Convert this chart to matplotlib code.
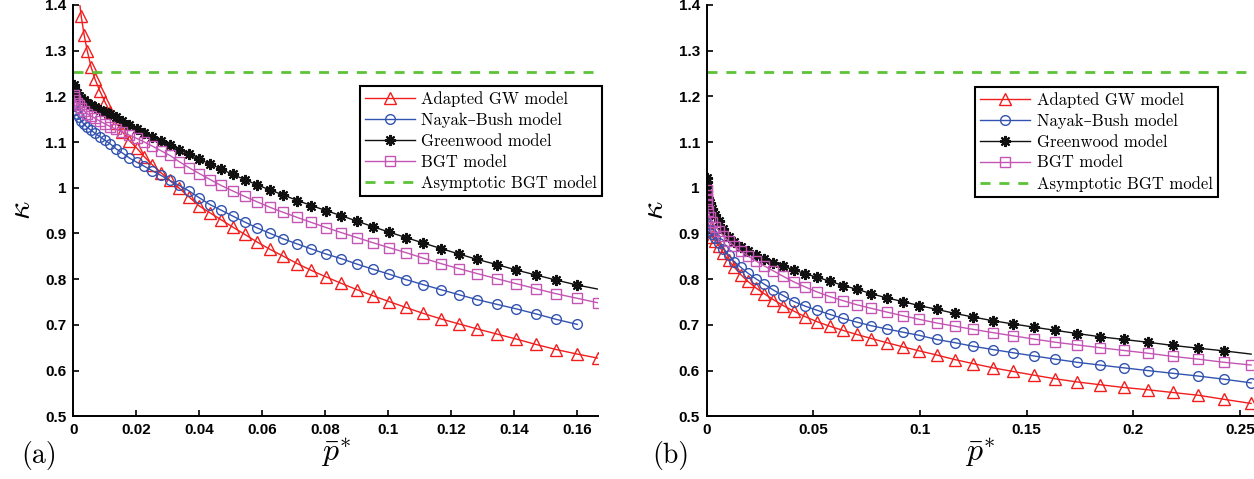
import matplotlib
matplotlib.use('Agg')
import matplotlib.pyplot as plt
from matplotlib.ticker import FuncFormatter

plt.rcParams['mathtext.fontset'] = 'cm'

# ---- panel (a) ----
xa = [0.00007, 0.00028, 0.00062, 0.00111, 0.00173, 0.0025, 0.0034, 0.0044, 0.0056, 0.0069,
      0.0084, 0.0100, 0.0117, 0.0136, 0.0156, 0.0178, 0.0201, 0.0225, 0.0251, 0.0278,
      0.0306, 0.0336, 0.0367, 0.0400, 0.0434, 0.0469, 0.0506, 0.0544, 0.0584, 0.0625,
      0.0667, 0.0711, 0.0756, 0.0802, 0.0850, 0.0900, 0.0950, 0.1002, 0.1056, 0.1111,
      0.1167, 0.1224, 0.1283, 0.1344, 0.1406, 0.1469, 0.1533, 0.1600, 0.1667]
gw_a = [1.420, 1.375, 1.335, 1.300, 1.265, 1.237, 1.212, 1.188, 1.165, 1.142,
        1.122, 1.103, 1.087, 1.068, 1.050, 1.033, 1.016, 0.999, 0.980, 0.960,
        0.945, 0.930, 0.914, 0.898, 0.881, 0.865, 0.850, 0.834, 0.819, 0.805,
        0.791, 0.777, 0.764, 0.751, 0.738, 0.725, 0.713, 0.702, 0.691, 0.680,
        0.669, 0.657, 0.646, 0.636, 0.627]
nb_a = [1.185, 1.178, 1.170, 1.162, 1.154, 1.146, 1.139, 1.132, 1.126, 1.119,
        1.112, 1.104, 1.096, 1.085, 1.076, 1.065, 1.056, 1.047, 1.037, 1.027,
        1.016, 1.005, 0.993, 0.978, 0.963, 0.951, 0.938, 0.925, 0.912, 0.900,
        0.888, 0.877, 0.866, 0.855, 0.845, 0.833, 0.822, 0.811, 0.799, 0.788,
        0.777, 0.766, 0.755, 0.745, 0.735, 0.724, 0.712, 0.701]
green_a = [1.224, 1.219, 1.213, 1.207, 1.201, 1.196, 1.191, 1.186, 1.181, 1.176,
           1.171, 1.166, 1.161, 1.155, 1.145, 1.137, 1.129, 1.120, 1.111, 1.102,
           1.093, 1.083, 1.073, 1.062, 1.052, 1.041, 1.029, 1.018, 1.006, 0.995,
           0.984, 0.972, 0.961, 0.950, 0.939, 0.927, 0.915, 0.903, 0.891, 0.879,
           0.867, 0.855, 0.843, 0.832, 0.820, 0.809, 0.798, 0.787, 0.778]
bgt_a = [1.203, 1.198, 1.192, 1.186, 1.180, 1.174, 1.168, 1.162, 1.157, 1.152,
         1.146, 1.140, 1.134, 1.128, 1.122, 1.115, 1.108, 1.100, 1.091, 1.081,
         1.071, 1.057, 1.044, 1.031, 1.018, 1.005, 0.993, 0.981, 0.969, 0.957,
         0.946, 0.935, 0.924, 0.913, 0.902, 0.891, 0.880, 0.869, 0.858, 0.846,
         0.834, 0.823, 0.812, 0.801, 0.790, 0.779, 0.768, 0.758, 0.748]

# ---- panel (b) ----
xb = [0.00001, 0.00004, 0.00009, 0.00016, 0.00064, 0.00144, 0.00255, 0.00399, 0.00574, 0.00782,
      0.01021, 0.01292, 0.01595, 0.0193, 0.02297, 0.02696, 0.03127, 0.03589, 0.04084, 0.0461,
      0.05168, 0.05759, 0.06381, 0.07035, 0.07721, 0.08438, 0.09188, 0.0997, 0.10783, 0.11629,
      0.12506, 0.13415, 0.14357, 0.1533, 0.16334, 0.17371, 0.1844, 0.19541, 0.20673, 0.21838,
      0.23034, 0.24262, 0.25523]
gw_b = [0.990, 0.975, 0.960, 0.948, 0.925, 0.907, 0.893, 0.884, 0.873, 0.857,
        0.841, 0.826, 0.810, 0.795, 0.781, 0.768, 0.755, 0.742, 0.730, 0.718,
        0.707, 0.697, 0.688, 0.679, 0.670, 0.661, 0.652, 0.643, 0.634, 0.624,
        0.615, 0.606, 0.598, 0.590, 0.582, 0.575, 0.569, 0.563, 0.558, 0.552,
        0.546, 0.537, 0.528]
nb_b = [0.960, 0.950, 0.942, 0.935, 0.920, 0.908, 0.898, 0.890, 0.880, 0.866,
        0.853, 0.838, 0.826, 0.813, 0.801, 0.789, 0.776, 0.764, 0.751, 0.741,
        0.732, 0.723, 0.714, 0.706, 0.698, 0.691, 0.684, 0.677, 0.668, 0.661,
        0.653, 0.646, 0.639, 0.632, 0.625, 0.618, 0.612, 0.606, 0.600, 0.594,
        0.588, 0.581, 0.573]
green_b = [1.022, 1.012, 1.002, 0.993, 0.978, 0.966, 0.953, 0.940, 0.927, 0.910,
           0.893, 0.882, 0.871, 0.861, 0.852, 0.844, 0.836, 0.828, 0.820, 0.812,
           0.804, 0.796, 0.786, 0.778, 0.768, 0.759, 0.751, 0.742, 0.734, 0.725,
           0.717, 0.709, 0.702, 0.695, 0.688, 0.681, 0.674, 0.668, 0.662, 0.655,
           0.649, 0.643, 0.636]
bgt_b = [0.995, 0.985, 0.975, 0.965, 0.950, 0.936, 0.925, 0.915, 0.906, 0.895,
         0.883, 0.872, 0.861, 0.851, 0.840, 0.829, 0.818, 0.806, 0.794, 0.783,
         0.772, 0.762, 0.753, 0.744, 0.736, 0.728, 0.720, 0.712, 0.704, 0.697,
         0.690, 0.683, 0.676, 0.669, 0.662, 0.656, 0.650, 0.644, 0.638, 0.631,
         0.625, 0.618, 0.612]

asym_bgt = 1.2533

labels = ['Adapted GW model', 'Nayak\u2013Bush model', 'Greenwood model',
          'BGT model', 'Asymptotic BGT model']

RED = '#f21d1d'
BLUE = '#3253b0'
BLACK = '#111111'
MAGENTA = '#c455b4'
GREEN = '#5cc236'

fig = plt.figure(figsize=(12.54, 4.79), dpi=100)
ax_a = fig.add_axes([0.0585, 0.131, 0.4187, 0.8587])
ax_b = fig.add_axes([0.5636, 0.131, 0.4354, 0.8587])

panels = [
    (ax_a, xa, gw_a, nb_a, green_a, bgt_a, 0.1667, [0, 0.02, 0.04, 0.06, 0.08, 0.1, 0.12, 0.14, 0.16], (1.007, 0.802), '(a)'),
    (ax_b, xb, gw_b, nb_b, green_b, bgt_b, 0.256, [0, 0.05, 0.1, 0.15, 0.2, 0.25], (0.936, 0.800), '(b)'),
]

tick_font = {'family': 'Liberation Sans', 'weight': 'bold', 'size': 11}

for ax, x, gw, nb, gr, bgt, xmax, xt, leg_pos, tag in panels:
    ax.plot(x[-len(gw):], gw, '-', color=RED, lw=1.0, marker='^', ms=8,
            mfc='none', mec=RED, mew=1.0, label=labels[0])
    ax.plot(x[:len(nb)], nb, '-', color=BLUE, lw=1.0, marker='o', ms=7,
            mfc='none', mec=BLUE, mew=1.0, label=labels[1])
    ax.plot(x[:len(gr)], gr, '-', color=BLACK, lw=1.0, marker=(8, 2, 0), ms=8,
            mec=BLACK, mew=1.5, markevery=slice(0, len(gr) - 1), label=labels[2])
    ax.plot(x[:len(bgt)], bgt, '-', color=MAGENTA, lw=1.0, marker='s', ms=6.5,
            mfc='none', mec=MAGENTA, mew=1.0, label=labels[3])
    ax.plot([0, xmax], [asym_bgt, asym_bgt], '--', color=GREEN, lw=2.0,
            dashes=(3.6, 3.2), label=labels[4])

    ax.set_xlim(0, xmax)
    ax.set_ylim(0.5, 1.4)
    ax.set_xticks(xt)
    ax.set_yticks([0.5, 0.6, 0.7, 0.8, 0.9, 1.0, 1.1, 1.2, 1.3, 1.4])
    fmt = FuncFormatter(lambda v, p: '%g' % round(v, 4))
    ax.xaxis.set_major_formatter(fmt)
    ax.yaxis.set_major_formatter(fmt)
    for s in ['top', 'right']:
        ax.spines[s].set_visible(False)
    for s in ['left', 'bottom']:
        ax.spines[s].set_linewidth(1.4)
    ax.tick_params(direction='in', length=4, width=1.2, pad=5)
    for lab in ax.get_xticklabels() + ax.get_yticklabels():
        lab.set_fontproperties(tick_font)

    ax.set_ylabel(r'$\kappa$', fontsize=23, labelpad=6)
    ax.set_xlabel(r'$\bar{p}^{*}$', fontsize=23, labelpad=-1)

    leg = ax.legend(loc='upper right', bbox_to_anchor=leg_pos, fancybox=False,
                    framealpha=1.0, edgecolor='black', handlelength=3.0,
                    borderpad=0.3, labelspacing=0.32, handletextpad=0.4,
                    borderaxespad=0.0,
                    prop={'family': ['cmr10', 'DejaVu Serif'], 'size': 12})
    leg.get_frame().set_linewidth(1.5)

fig.text(0.031, 0.05, '(a)', fontsize=20, family=['cmr10', 'DejaVu Serif'], ha='center', va='center')
fig.text(0.535, 0.05, '(b)', fontsize=20, family=['cmr10', 'DejaVu Serif'], ha='center', va='center')

fig.savefig('out.png', dpi=100)
